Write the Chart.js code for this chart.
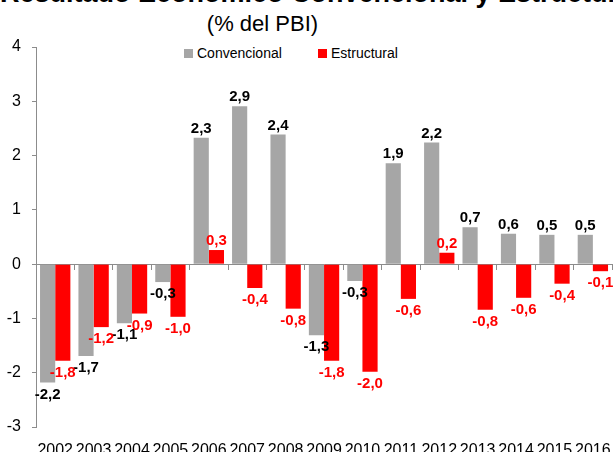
<!DOCTYPE html>
<html lang="es">
<head>
<meta charset="UTF-8">
<title>Resultado Económico Convencional y Estructural</title>
<script src="https://cdn.jsdelivr.net/npm/chart.js"></script>
<style>
  body { margin: 0; width: 613px; height: 452px; overflow: hidden; background: #fff; position: relative;
         font-family: 'Liberation Sans Narrow', 'Arial Narrow', 'Liberation Sans', Arial, sans-serif; }
  .title1 { position: absolute; left: 0; top: -20px; width: 604px; text-align: center;
            font-size: 27px; line-height: 27px; font-weight: bold; color: #000; white-space: nowrap; }
  .title2 { position: absolute; left: 0; top: 12px; width: 525px; text-align: center;
            font-size: 22px; line-height: 24px; color: #000; white-space: nowrap; }
  .legend { position: absolute; top: 44px; font-size: 14px; line-height: 18px; color: #000; }
  .legend span.box { display: inline-block; width: 9px; height: 9px; margin-right: 4px; vertical-align: 0px; }
  .chart-wrap { position: absolute; left: 0; top: 0; width: 625px; height: 467px; }
</style>
</head>
<body>
  <div class="title1">Resultado Económico Convencional y Estructural</div>
  <div class="title2">(% del PBI)</div>
  <div class="legend" style="left:184px"><span class="box" style="background:#A6A6A6"></span>Convencional</div>
  <div class="legend" style="left:318px"><span class="box" style="background:#FF0000"></span>Estructural</div>
  <div class="chart-wrap"><canvas id="chart" width="625" height="467"></canvas></div>

<script>
  // Data (% del PBI)
  const years = ['2002', '2003', '2004', '2005', '2006', '2007', '2008', '2009',
                 '2010', '2011', '2012', '2013', '2014', '2015', '2016'];
  const convencional = [-2.18, -1.69, -1.09, -0.33, 2.33, 2.91, 2.39, -1.31,
                        -0.31, 1.86, 2.24, 0.68, 0.56, 0.54, 0.54];
  const estructural = [-1.78, -1.16, -0.91, -0.97, 0.26, -0.44, -0.82, -1.78,
                       -1.98, -0.64, 0.21, -0.84, -0.62, -0.36, -0.13];
  const yTicks = [-3, -2, -1, 0, 1, 2, 3, 4];

  const fontStack = "'Liberation Sans Narrow', 'Arial Narrow', 'Liberation Sans', Arial, sans-serif";
  const axisGray = '#8C8C8C';

  // value labels drawn at the end of each bar
  const valueLabels = {
    id: 'valueLabels',
    afterDatasetsDraw(chart) {
      const ctx = chart.ctx;
      ctx.save();
      ctx.font = 'bold 15px ' + fontStack;
      ctx.textAlign = 'center';
      ctx.textBaseline = 'middle';
      chart.data.datasets.forEach((ds, i) => {
        const meta = chart.getDatasetMeta(i);
        ctx.fillStyle = ds.labelColor;
        meta.data.forEach((bar, j) => {
          const v = ds.data[j];
          const txt = v.toFixed(1).replace('.', ',');
          const y = v >= 0 ? bar.y - 9 : bar.y + 12;
          ctx.fillText(txt, bar.x, y);
        });
      });
      ctx.restore();
    }
  };

  Chart.defaults.font.family = fontStack;
  Chart.defaults.color = '#000';

  new Chart(document.getElementById('chart'), {
    type: 'bar',
    data: {
      labels: years,
      datasets: [{
        label: 'Convencional',
        data: convencional,
        backgroundColor: '#A6A6A6',
        labelColor: '#000',
        categoryPercentage: 0.79,
        barPercentage: 1.0
      }, {
        label: 'Estructural',
        data: estructural,
        backgroundColor: '#FF0000',
        labelColor: '#FF0000',
        categoryPercentage: 0.79,
        barPercentage: 1.0
      }]
    },
    options: {
      responsive: false,
      animation: false,
      layout: { padding: { top: 47, left: 0, right: 10, bottom: 0 } },
      plugins: {
        legend: { display: false },
        title: { display: false },
        tooltip: { enabled: false }
      },
      scales: {
        x: {
          position: { y: 0 },
          offset: true,
          ticks: { display: false },
          grid: { drawOnChartArea: false, drawTicks: true, tickLength: 5, color: axisGray, offset: true },
          border: { color: axisGray }
        },
        x2: {
          type: 'category',
          labels: years,
          position: 'bottom',
          offset: true,
          grid: { display: false, drawTicks: false },
          border: { display: false },
          ticks: { font: { size: 16 }, padding: 14, maxRotation: 0, autoSkip: false },
          afterFit(axis) { axis.height = 40; }
        },
        y: {
          min: yTicks[0],
          max: yTicks[yTicks.length - 1],
          afterBuildTicks(axis) { axis.ticks = yTicks.map(v => ({ value: v })); },
          ticks: { font: { size: 16 }, padding: 11 },
          grid: { drawOnChartArea: false, tickLength: 4, color: axisGray },
          border: { color: axisGray },
          afterFit(axis) { axis.width = 36; }
        }
      }
    },
    plugins: [valueLabels]
  });
</script>
</body>
</html>
